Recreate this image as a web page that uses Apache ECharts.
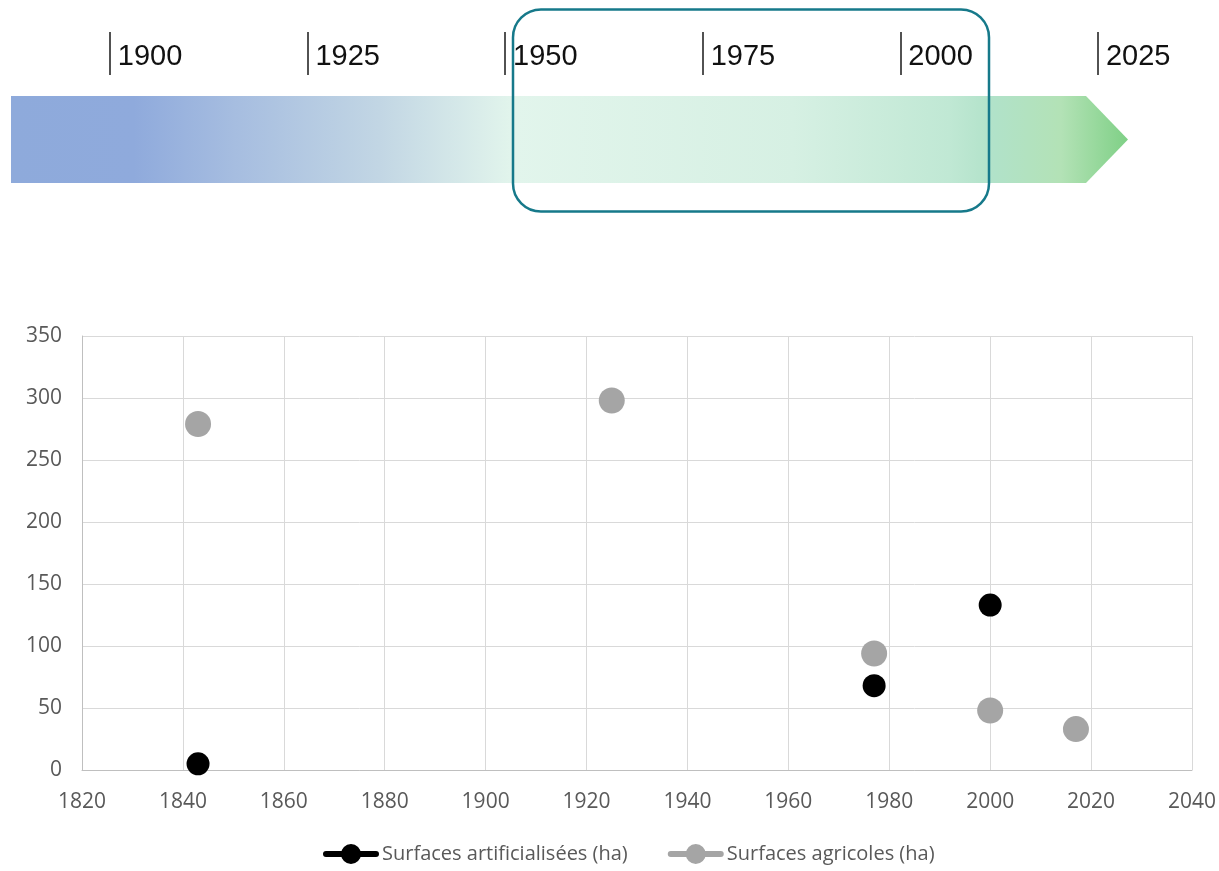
<!DOCTYPE html>
<html>
<head>
<meta charset="utf-8">
<script src="https://cdn.jsdelivr.net/npm/echarts@6/dist/echarts.min.js"></script>
<style>
html,body{margin:0;padding:0;background:#fff;}
#chart{width:1219px;height:871px;}
</style>
</head>
<body>
<div id="chart"></div>
<script>
// ---- data ----
const seriesNames = ['Surfaces artificialisées (ha)', 'Surfaces agricoles (ha)'];
const artYears = [1843, 1977, 2000];
const artValues = [5, 68, 133];
const agriYears = [1843, 1925, 1977, 2000, 2017];
const agriValues = [279, 298, 94, 48, 33];
const timelineTicks = [1900, 1925, 1950, 1975, 2000, 2025];

const FONT = 'Open Sans';
const plain = v => String(v);
const chart = echarts.init(document.getElementById('chart'), null, {renderer: 'canvas'});

const legendIcon = 'path://M3,7 L53,7 A3,3 0 0 1 53,13 L3,13 A3,3 0 0 1 3,7 Z M18,10 A10,10 0 1 1 38,10 A10,10 0 1 1 18,10 Z';

const option = {
  backgroundColor: '#ffffff',
  animation: false,
  textStyle: {fontFamily: FONT},
  grid: [
    {left: 82, right: 25, top: 336, bottom: 101, containLabel: false},
    {left: 11, right: 91, top: 32, height: 43, containLabel: false}
  ],
  xAxis: [
    {
      type: 'value', gridIndex: 0, min: 1820, max: 2040, interval: 20,
      axisLine: {show: true, lineStyle: {color: '#bfbfbf', width: 1}},
      axisTick: {show: false},
      splitLine: {show: true, lineStyle: {color: '#d9d9d9', width: 1}},
      axisLabel: {color: '#595959', fontSize: 21, fontFamily: FONT, margin: 22, formatter: plain}
    },
    {
      type: 'value', gridIndex: 1, min: 1887.5, max: 2028.8,
      axisLine: {show: false},
      splitLine: {show: false},
      axisTick: {show: true, inside: true, length: 43, customValues: timelineTicks,
        lineStyle: {color: '#1a1a1a', width: 1.5}},
      axisLabel: {show: true, inside: true, customValues: timelineTicks, align: 'left', formatter: plain,
        padding: [0, 0, 0, 8], margin: 4, color: '#111111', fontSize: 29, fontFamily: 'Liberation Sans'}
    }
  ],
  yAxis: [
    {
      type: 'value', gridIndex: 0, min: 0, max: 350, interval: 50,
      axisLine: {show: true, lineStyle: {color: '#bfbfbf', width: 1}},
      axisTick: {show: false},
      splitLine: {show: true, lineStyle: {color: '#d9d9d9', width: 1}},
      axisLabel: {color: '#595959', fontSize: 21, fontFamily: FONT, margin: 20, formatter: plain}
    },
    {type: 'value', gridIndex: 1, show: false, min: 0, max: 1}
  ],
  legend: {
    bottom: 2, left: 318,
    itemWidth: 56, itemHeight: 20, itemGap: 40,
    icon: legendIcon,
    textStyle: {color: '#595959', fontSize: 20, fontFamily: FONT, padding: [0, 0, 0, -2]},
    data: seriesNames
  },
  graphic: [
    {
      type: 'polygon', z: -10, silent: true,
      shape: {points: [[11, 96], [1086, 96], [1128, 139.5], [1086, 183], [11, 183]]},
      style: {
        fill: new echarts.graphic.LinearGradient(0, 0, 1, 0, [
          {offset: 0, color: '#8eaadb'},
          {offset: 0.11, color: '#8faadc'},
          {offset: 0.2, color: '#a6bde0'},
          {offset: 0.33, color: '#c2d6e4'},
          {offset: 0.45, color: '#e2f5ec'},
          {offset: 0.7, color: '#d6f0e3'},
          {offset: 0.84, color: '#c0e8d4'},
          {offset: 0.88, color: '#b1e2c9'},
          {offset: 0.94, color: '#b3e2b6'},
          {offset: 1, color: '#7fd086'}
        ])
      }
    },
    {
      type: 'rect', z: 10, silent: true,
      shape: {x: 513, y: 9.5, width: 476, height: 202, r: 28},
      style: {fill: 'none', stroke: '#16798a', lineWidth: 2.5}
    }
  ],
  series: [
    {
      name: seriesNames[0], type: 'scatter', xAxisIndex: 0, yAxisIndex: 0,
      symbol: 'circle', symbolSize: 23, z: 3,
      itemStyle: {color: '#000000', opacity: 1},
      data: artYears.map((y, i) => [y, artValues[i]])
    },
    {
      name: seriesNames[1], type: 'scatter', xAxisIndex: 0, yAxisIndex: 0,
      symbol: 'circle', symbolSize: 26, z: 2,
      itemStyle: {color: '#a5a5a5', opacity: 1},
      data: agriYears.map((y, i) => [y, agriValues[i]])
    }
  ]
};
chart.setOption(option);
</script>
</body>
</html>
